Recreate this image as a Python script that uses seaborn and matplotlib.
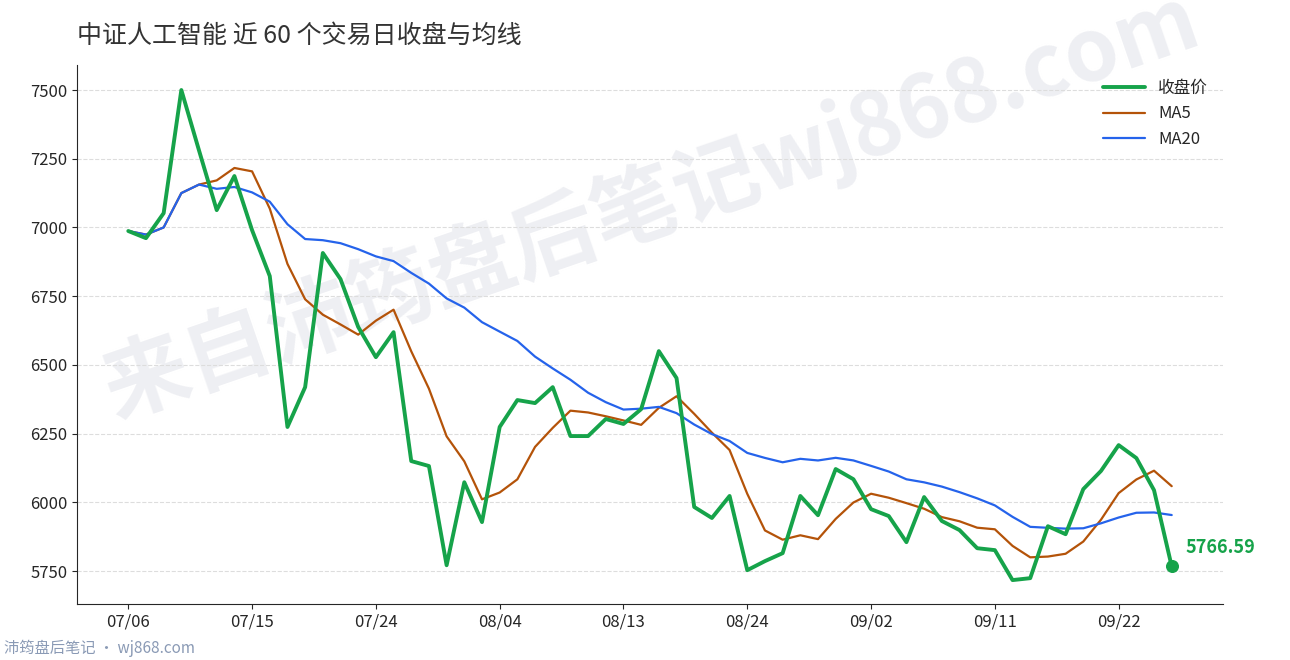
import numpy as np
import pandas as pd
import seaborn as sns
import matplotlib.pyplot as plt

sns.set_style("ticks")
plt.rcParams['font.family'] = ['Noto Sans CJK SC', 'DejaVu Sans']

# closing prices, last 60 trading days
close = [6987, 6961, 7052, 7500, 7280, 7063, 7187, 6990, 6823, 6274,
         6419, 6907, 6812, 6638, 6528, 6619, 6150, 6132, 5771, 6073,
         5928, 6274, 6372, 6361, 6419, 6241, 6241, 6303, 6285, 6339,
         6550, 6452, 5983, 5943, 6023, 5753, 5786, 5815, 6023, 5953,
         6121, 6084, 5975, 5950, 5855, 6019, 5932, 5899, 5833, 5826,
         5717, 5724, 5913, 5884, 6048, 6114, 6208, 6161, 6044, 5766.59]
tick_pos = [0, 7, 14, 21, 28, 35, 42, 49, 56]
tick_labels = ['07/06', '07/15', '07/24', '08/04', '08/13', '08/24', '09/02', '09/11', '09/22']

df = pd.DataFrame({'day': np.arange(len(close)), 'close': close})
df['ma5'] = df['close'].rolling(5, min_periods=1).mean()
df['ma20'] = df['close'].rolling(20, min_periods=1).mean()

green = '#16a34a'
fig = plt.figure(figsize=(12.9, 6.6), dpi=100)
ax = fig.add_axes([77/1290, 56/660, 1146/1290, 539/660])

# watermark, behind the lines
ax.text(0.5, 0.74, '来自沛筠盘后笔记wj868.com', fontsize=62, fontweight='bold',
        color='#eeeff3', rotation=19, ha='center', va='center',
        transform=ax.transAxes, zorder=0.5)

sns.lineplot(data=df, x='day', y='close', ax=ax, color=green, lw=2.8, label='收盘价', zorder=3)
sns.lineplot(data=df, x='day', y='ma5', ax=ax, color='#b45309', lw=1.6, label='MA5', zorder=2)
sns.lineplot(data=df, x='day', y='ma20', ax=ax, color='#2563eb', lw=1.6, label='MA20', zorder=2)

last = len(close) - 1
ax.scatter([last], [close[-1]], s=70, color=green, zorder=4)
ax.text(last + 0.8, close[-1] + 70, f'{close[-1]:.2f}', color=green, fontsize=13,
        fontweight='bold', va='center')

ax.set_xlim(-2.9, 61.9)
ax.set_ylim(5630, 7591)
ax.set_yticks([5750, 6000, 6250, 6500, 6750, 7000, 7250, 7500])
ax.set_xticks(tick_pos)
ax.set_xticklabels(tick_labels)
ax.tick_params(labelsize=12)
ax.set_xlabel('')
ax.set_ylabel('')
ax.grid(axis='y', ls='--', color='#dddddd', lw=0.8, zorder=0)
ax.set_axisbelow(True)
sns.despine(ax=ax)

ax.legend(loc='upper right', frameon=False, fontsize=12, handlelength=2.5)

fig.text(77/1290, 1 - 36/660, '中证人工智能 近 60 个交易日收盘与均线', fontsize=18,
         color='#333333', va='center')
fig.text(4/1290, 1 - 648/660, '沛筠盘后笔记 · wj868.com', fontsize=11,
         color='#8a9ab5', va='center')

fig.savefig('out.png', dpi=100)
